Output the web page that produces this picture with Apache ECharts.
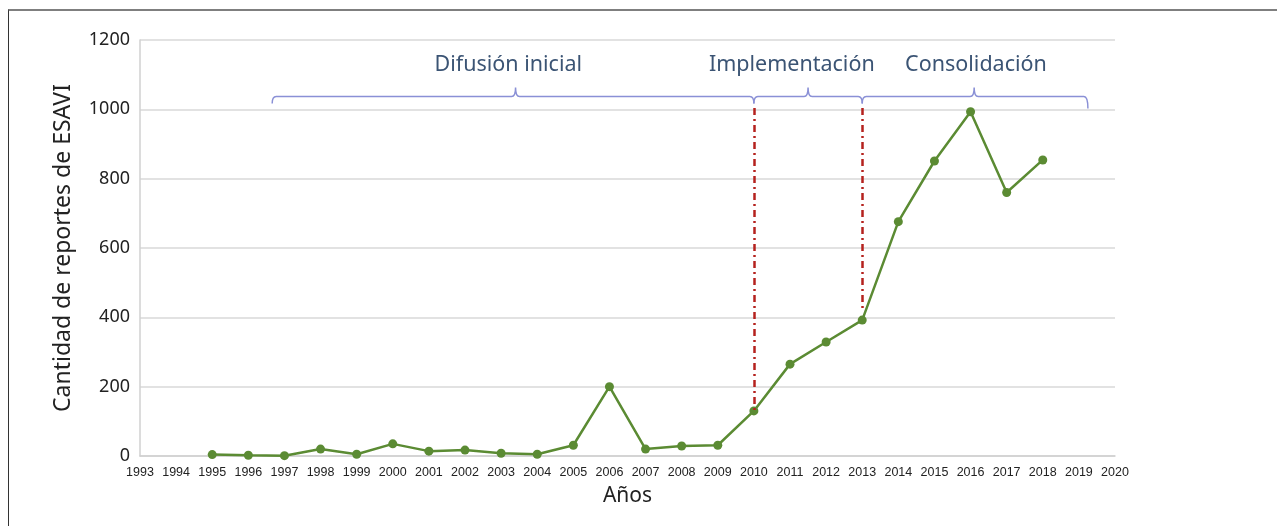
<!DOCTYPE html>
<html>
<head>
<meta charset="utf-8">
<script src="https://cdn.jsdelivr.net/npm/echarts@6/dist/echarts.min.js"></script>
<style>
  html, body { margin: 0; padding: 0; background: #fff; }
  #chart { position: absolute; left: 0; top: 0; width: 1277px; height: 526px; }
  .frame {
    position: absolute; left: 8px; top: 9px; right: 0; bottom: 0;
    border-top: 2px solid #7f7f7f; border-left: 1px solid #333;
    pointer-events: none;
  }
</style>
</head>
<body>
<div id="chart"></div>
<div class="frame"></div>
<script>
// years on the axis (tick labels run 1993..2020)
const axisMinYear = 1993;
const axisMaxYear = 2020;

// reports per year
const years = [1995, 1996, 1997, 1998, 1999, 2000, 2001, 2002, 2003, 2004, 2005, 2006,
  2007, 2008, 2009, 2010, 2011, 2012, 2013, 2014, 2015, 2016, 2017, 2018];
const reports = [4, 2, 1, 20, 5, 35, 14, 17, 8, 5, 31, 200,
  20, 29, 31, 130, 265, 329, 392, 676, 851, 993, 760, 854];

// phases (brackets over the plot)
const phaseNames = ["Difusión inicial", "Implementación", "Consolidación"];
const phaseStart = [1996.66, 2010, 2013];
const phaseMid = [2003.4, 2011.5, 2016.1];
const phaseEnd = [2010, 2013, 2019.25];
const phaseLabelX = [2003.2, 2011.05, 2016.15];

// dash-dot markers from bracket down to the line
const markerYears = [2010, 2013];
const markerTop = [1004, 1004];
const markerBottom = [130, 421];

const bracketY = 1037;
const labelY = 1128;

const chart = echarts.init(document.getElementById("chart"));

const lineData = years.map((y, i) => [y, reports[i]]);
const phaseData = phaseNames.map((n, i) => [phaseStart[i], phaseMid[i], phaseEnd[i], phaseLabelX[i], i]);

function renderBracket(params, api) {
  const i = api.value(4);
  const a = api.coord([api.value(0), bracketY]);
  const m = api.coord([api.value(1), bracketY]);
  const b = api.coord([api.value(2), bracketY]);
  const t = api.coord([api.value(3), labelY]);
  const y = a[1];
  const r = 4;
  const path =
    `M ${a[0]} ${y + 7} Q ${a[0]} ${y} ${a[0] + r} ${y} ` +
    `L ${m[0] - r} ${y} Q ${m[0]} ${y} ${m[0]} ${y - 9} ` +
    `Q ${m[0]} ${y} ${m[0] + r} ${y} ` +
    `L ${b[0] - r} ${y} Q ${b[0]} ${y} ${b[0]} ${y + (i === 2 ? 12 : 7)}`;
  return {
    type: "group",
    children: [
      {
        type: "path",
        shape: { pathData: path },
        style: { stroke: "#8a90d6", lineWidth: 1.5, fill: null }
      },
      {
        type: "text",
        x: t[0],
        y: t[1],
        style: {
          text: phaseNames[i],
          textAlign: "center",
          textVerticalAlign: "middle",
          fill: "#3b5474",
          fontSize: 21.5,
          fontFamily: "Noto Sans"
        }
      }
    ]
  };
}

chart.setOption({
  animation: false,
  textStyle: { fontFamily: "Noto Sans" },
  grid: { left: 140, right: 162, top: 40, bottom: 70, outerBoundsMode: "none" },
  xAxis: {
    type: "value",
    min: axisMinYear,
    max: axisMaxYear,
    interval: 1,
    name: "Años",
    nameLocation: "middle",
    nameGap: 30,
    nameTextStyle: { fontSize: 21, color: "#222" },
    axisLine: { show: true, lineStyle: { color: "#d0d0d0", width: 1.5 } },
    axisTick: { show: false },
    splitLine: { show: false },
    axisLabel: {
      fontSize: 12.5,
      color: "#222",
      margin: 10,
      fontFamily: "Liberation Sans",
      formatter: (v) => String(v)
    }
  },
  yAxis: {
    type: "value",
    min: 0,
    max: 1200,
    interval: 200,
    name: "Cantidad de reportes de ESAVI",
    nameLocation: "middle",
    nameGap: 65,
    nameTextStyle: { fontSize: 23, color: "#222" },
    axisLine: { show: true, lineStyle: { color: "#d0d0d0", width: 1.5 } },
    axisTick: { show: false },
    splitLine: { lineStyle: { color: "#d9d9d9", width: 1.5 } },
    axisLabel: { fontSize: 18, color: "#222", margin: 10, formatter: (v) => String(v) }
  },
  series: [
    {
      type: "line",
      data: lineData,
      symbol: "circle",
      symbolSize: 9,
      lineStyle: { color: "#5b8b33", width: 2.5 },
      itemStyle: { color: "#5b8b33" },
      z: 3,
      markLine: {
        silent: true,
        symbol: "none",
        label: { show: false },
        lineStyle: { color: "#b5221e", width: 2.5, type: [7, 4, 2, 4] },
        data: markerYears.map((yr, i) => [
          { coord: [yr, markerTop[i]] },
          { coord: [yr, markerBottom[i]] }
        ])
      }
    },
    {
      type: "custom",
      renderItem: renderBracket,
      data: phaseData,
      silent: true,
      clip: false,
      z: 4
    }
  ]
});
</script>
</body>
</html>
